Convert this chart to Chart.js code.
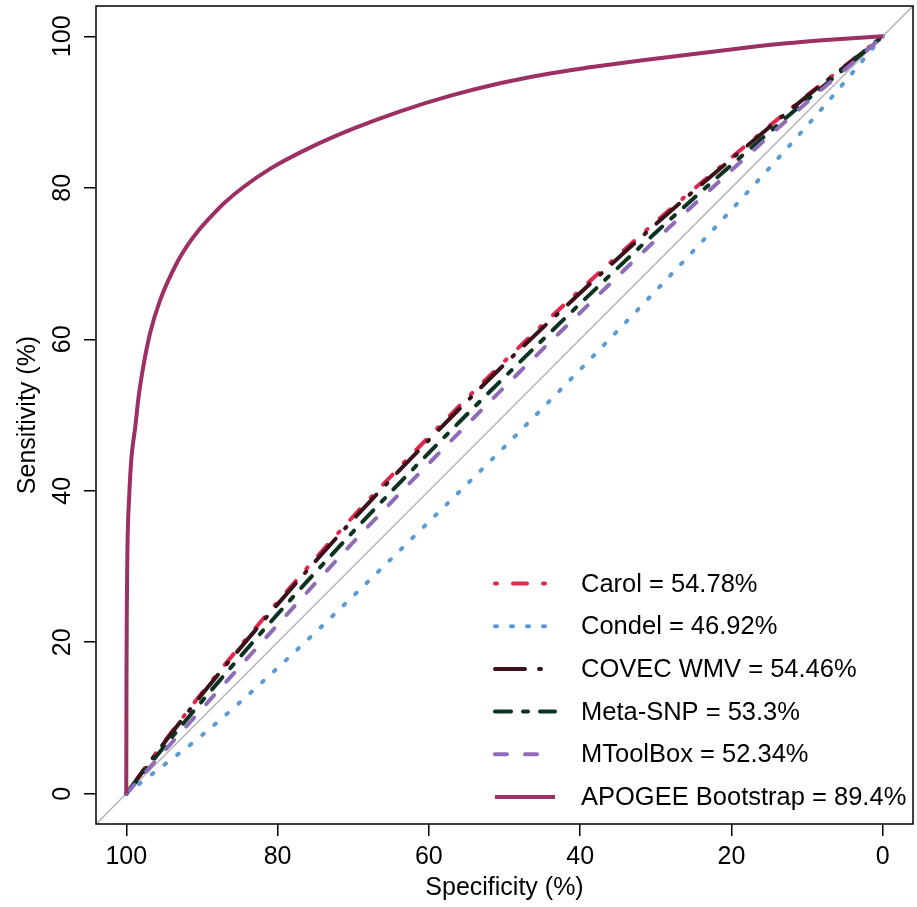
<!DOCTYPE html>
<html>
<head>
<meta charset="utf-8">
<script src="https://cdn.jsdelivr.net/npm/chart.js"></script>
<style>
  html, body { margin: 0; padding: 0; background: #fff; }
  #wrap { width: 917px; height: 907px; }
</style>
</head>
<body>
<div id="wrap"><canvas id="roc" width="917" height="907"></canvas></div>
<script>
// ROC curves: specificity (%) on a reversed x axis, sensitivity (%) on y
const specGrid = [100, 95, 90, 80, 70, 60, 50, 40, 30, 20, 10, 5, 0];
const carolSens = [0, 6.8, 13.3, 25.3, 36.6, 47.1, 57.1, 66.5, 75.5, 84.0, 92.2, 96.1, 100];
const condelSens = [0, 3.8, 7.7, 16.6, 26.1, 35.9, 45.8, 56.0, 66.4, 77.1, 88.2, 94.0, 100];
const covecSens = [0, 6.7, 13.1, 25.0, 36.2, 46.7, 56.7, 66.1, 75.2, 83.8, 92.1, 96.0, 100];
const metaSnpSens = [0, 6.2, 12.2, 23.7, 34.6, 45.0, 55.0, 64.7, 74.1, 83.0, 91.6, 95.8, 100];
const mtoolboxSens = [0, 5.6, 11.2, 22.3, 33.2, 43.6, 53.7, 63.5, 73.1, 82.3, 91.3, 95.6, 100];

const apogeeSpec = [100, 99.97, 99.92, 99.85, 99.6, 99.3, 98.81, 98.38, 97.71, 96.83, 95.51, 93.3, 91.77,
  90.58, 88.9, 87.15, 84.5, 81.0, 75.7, 70.0, 63.8, 57.0, 50.6, 44.0, 38.7, 32.0, 25.5, 19.0, 12.3, 6.0, 0];
const apogeeSens = [0, 15, 25, 32, 39.5, 44.5, 48.4, 52.3, 56.6, 60.9, 65.2, 70.1, 72.6,
  74.2, 76.1, 77.9, 80.1, 82.5, 85.3, 87.8, 90.1, 92.2, 93.8, 95.1, 95.9, 96.8, 97.6, 98.4, 99.1, 99.6, 100];

const tickValues = [0, 20, 40, 60, 80, 100];
const axisMin = -4, axisMax = 104;
const legendLabels = ['Carol = 54.78%', 'Condel = 46.92%', 'COVEC WMV = 54.46%',
  'Meta-SNP = 53.3%', 'MToolBox = 52.34%', 'APOGEE Bootstrap = 89.4%'];

const FONT = "'Liberation Sans', Arial, Helvetica, sans-serif";

const toPoints = (xs, ys) => xs.map((x, i) => ({ x, y: ys[i] }));

const curve = (label, data, color, dash, order) => ({
  label, data, order,
  borderColor: color,
  borderWidth: 4,
  borderDash: dash,
  borderCapStyle: dash.length ? 'round' : 'butt',
  borderJoinStyle: 'round',
  pointRadius: 0,
  fill: false,
  cubicInterpolationMode: 'monotone'
});

const datasets = [
  curve(legendLabels[0], toPoints(specGrid, carolSens), '#e3264d', [2, 16, 14, 16], 6),
  curve(legendLabels[1], toPoints(specGrid, condelSens), '#5b9bd5', [2, 14], 5),
  curve(legendLabels[2], toPoints(specGrid, covecSens), '#3b1219', [30, 14, 2, 14], 4),
  curve(legendLabels[3], toPoints(specGrid, metaSnpSens), '#0b3320', [16, 12, 5, 12], 3),
  curve(legendLabels[4], toPoints(specGrid, mtoolboxSens), '#8e6cb8', [12, 18], 2),
  curve(legendLabels[5], toPoints(apogeeSpec, apogeeSens), '#9c2f63', [], 1),
  {
    label: 'chance',
    data: toPoints([axisMax, axisMin], [100 - axisMax, 100 - axisMin]),
    borderColor: '#b3b3b3', borderWidth: 1.5, pointRadius: 0, fill: false, order: 7
  }
];

// frame, rotated y tick labels and the in-plot legend
const extras = {
  id: 'extras',
  afterDraw(chart) {
    const { ctx, chartArea: a, scales } = chart;
    ctx.save();
    ctx.strokeStyle = '#000';
    ctx.lineWidth = 1.5;
    ctx.strokeRect(a.left, a.top, a.right - a.left, a.bottom - a.top);

    ctx.fillStyle = '#000';
    ctx.font = `25px ${FONT}`;
    ctx.textAlign = 'center';
    ctx.textBaseline = 'alphabetic';
    tickValues.forEach(v => {
      ctx.save();
      ctx.translate(70, scales.y.getPixelForValue(v));
      ctx.rotate(-Math.PI / 2);
      ctx.fillText(String(v), 0, 0);
      ctx.restore();
    });

    const x0 = 495, x1 = 555, tx = 581, y0 = 583.5, dy = 42.7;
    ctx.font = `25.5px ${FONT}`;
    legendLabels.forEach((text, i) => {
      const ds = datasets[i];
      const y = y0 + i * dy;
      ctx.save();
      ctx.strokeStyle = ds.borderColor;
      ctx.lineWidth = ds.borderWidth;
      ctx.lineCap = ds.borderCapStyle;
      ctx.setLineDash(ds.borderDash);
      ctx.beginPath();
      ctx.moveTo(x0, y);
      ctx.lineTo(x1, y);
      ctx.stroke();
      ctx.restore();
      ctx.textAlign = 'left';
      ctx.textBaseline = 'middle';
      ctx.fillText(text, tx, y + 1);
    });
    ctx.restore();
  }
};

const fixedTicks = scale => { scale.ticks = tickValues.map(v => ({ value: v })); };
const tickGrid = { display: true, drawOnChartArea: false, drawTicks: true, tickLength: 12,
  tickColor: '#000', tickWidth: 1.5, lineWidth: 1.5 };

new Chart(document.getElementById('roc'), {
  type: 'line',
  data: { datasets },
  options: {
    responsive: false,
    animation: false,
    layout: { padding: { top: 6, right: 4, left: 0, bottom: 0 } },
    plugins: { legend: { display: false }, tooltip: { enabled: false } },
    scales: {
      x: {
        type: 'linear', reverse: true, min: axisMin, max: axisMax,
        afterBuildTicks: fixedTicks,
        afterFit: s => { s.height = 83; },
        grid: tickGrid,
        border: { display: false },
        ticks: { color: '#000', font: { family: FONT, size: 25 }, padding: 6, maxRotation: 0, autoSkip: false },
        title: { display: true, text: 'Specificity (%)', color: '#000',
          font: { family: FONT, size: 25 }, padding: { top: 0, bottom: 4 } }
      },
      y: {
        type: 'linear', min: axisMin, max: axisMax,
        afterBuildTicks: fixedTicks,
        afterFit: s => { s.width = 96; },
        grid: tickGrid,
        border: { display: false },
        ticks: { display: false },
        title: { display: true, text: 'Sensitivity (%)', color: '#000',
          font: { family: FONT, size: 25 }, padding: { top: 13, bottom: 0 } }
      }
    }
  },
  plugins: [extras]
});
</script>
</body>
</html>
